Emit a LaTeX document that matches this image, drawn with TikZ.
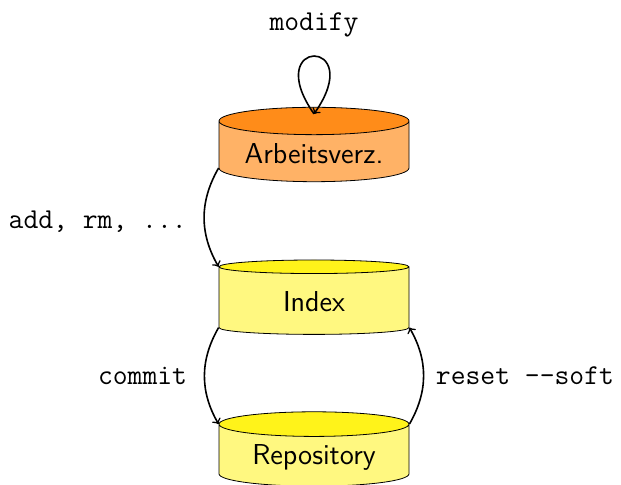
\documentclass[tikz,border=0pt]{standalone}
\usetikzlibrary{shapes.geometric}
\usetikzlibrary{arrows}

\tikzset{
  speicher/.style={draw,shape=cylinder,shape border rotate=90,aspect=0.18,
    cylinder uses custom fill,minimum width=95pt,minimum height=37.2pt,
    font=\sffamily\Large,thin,anchor=shape center},
  wdstyle/.style={speicher,cylinder body fill=orange!60,cylinder end fill=orange!90},
  gelb/.style={speicher,cylinder body fill=yellow!50,cylinder end fill=yellow!90},
  pfeil/.style={->,thick},
  befehl/.style={font=\ttfamily\Large}
}

\begin{document}
\begin{tikzpicture}[x=0.5pt,y=-0.5pt]
\useasboundingbox (0,0) rectangle (621,485);
% speicher
\node[wdstyle] (wd) at (314,144.5) {Arbeitsverz.};
\node[gelb] (idx) at (314,297.2) {Index};
\node[gelb] (repo) at (314,449) {Repository};
% pfeile
\draw[pfeil] ([yshift=-3.5pt]wd.north) to[out=125,in=55,min distance=47pt,looseness=0]
  node[above=6pt,befehl] {modify} ([yshift=-3.5pt]wd.north);
\draw[pfeil] (wd.after bottom) to[bend right=30] node[left=5pt,yshift=-2pt,befehl] {add, rm, ...} (idx.before top);
\draw[pfeil] (idx.after bottom) to[bend right=30] node[left=5pt,befehl] {commit} (repo.before top);
\draw[pfeil] (repo.after top) to[bend right=30] node[right=2.5pt,befehl] {reset --soft} (idx.before bottom);
\end{tikzpicture}
\end{document}
